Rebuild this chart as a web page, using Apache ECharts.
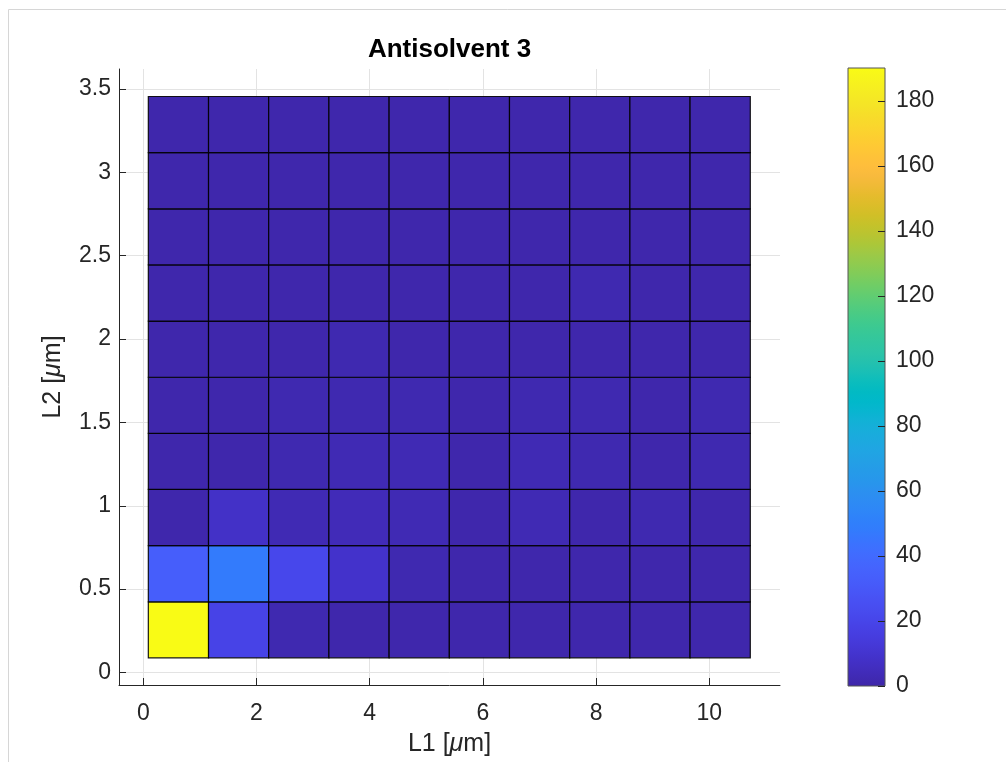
<!DOCTYPE html>
<html>
<head>
<meta charset="utf-8">
<title>Antisolvent 3</title>
<script src="https://cdn.jsdelivr.net/npm/echarts@6/dist/echarts.min.js"></script>
<style>
  html, body { margin: 0; padding: 0; background: #ffffff; }
  #chart { width: 1006px; height: 762px; }
</style>
</head>
<body>
<div id="chart"></div>
<script>
// Bin edges of the 2-D histogram (µm)
const xEdges = [0.088, 1.152, 2.215, 3.279, 4.343, 5.407, 6.470, 7.534, 8.598, 9.661, 10.725];
const yEdges = [0.088, 0.424, 0.761, 1.098, 1.434, 1.771, 2.108, 2.445, 2.781, 3.118, 3.455];

// Counts per bin, one row per L2 bin (bottom row first), columns follow L1 bins
const countsRow0 = [190, 19, 2, 1, 1, 1, 1, 1, 1, 1];
const countsRow1 = [33, 48, 21, 9, 2, 1, 1, 1, 1, 1];
const countsRow2 = [1, 8, 3, 4, 3, 1, 3, 1, 2, 1];
const countsRow3 = [1, 1, 2, 3, 3, 1, 3, 2, 1, 2];
const countsRow4 = [1, 1, 2, 2, 2, 1, 2, 2, 1, 2];
const countsRow5 = [1, 1, 1, 2, 1, 1, 1, 1, 1, 1];
const countsRow6 = [1, 1, 1, 1, 1, 1, 1, 2, 1, 1];
const countsRow7 = [1, 1, 1, 1, 1, 1, 1, 1, 1, 1];
const countsRow8 = [1, 1, 1, 1, 1, 1, 1, 1, 1, 1];
const countsRow9 = [1, 1, 1, 1, 1, 1, 1, 1, 1, 1];
const countRows = [countsRow0, countsRow1, countsRow2, countsRow3, countsRow4,
                   countsRow5, countsRow6, countsRow7, countsRow8, countsRow9];

// Axis tick values
const xTicks = [0, 2, 4, 6, 8, 10];
const yTicks = [0, 0.5, 1, 1.5, 2, 2.5, 3, 3.5];
const cbarTicks = [0, 20, 40, 60, 80, 100, 120, 140, 160, 180];

// parula colormap (64 entries)
const parula = [
  [0.2422,0.1504,0.6603],[0.2504,0.1650,0.7076],[0.2578,0.1818,0.7511],[0.2647,0.1978,0.7952],
  [0.2706,0.2147,0.8364],[0.2751,0.2342,0.8710],[0.2783,0.2559,0.8991],[0.2803,0.2782,0.9221],
  [0.2813,0.3006,0.9414],[0.2810,0.3228,0.9579],[0.2795,0.3447,0.9717],[0.2760,0.3667,0.9829],
  [0.2699,0.3892,0.9906],[0.2602,0.4123,0.9952],[0.2440,0.4358,0.9988],[0.2206,0.4603,0.9973],
  [0.1963,0.4847,0.9892],[0.1834,0.5074,0.9798],[0.1786,0.5289,0.9682],[0.1764,0.5499,0.9520],
  [0.1687,0.5703,0.9359],[0.1540,0.5902,0.9218],[0.1460,0.6091,0.9079],[0.1380,0.6276,0.8973],
  [0.1248,0.6459,0.8883],[0.1113,0.6635,0.8763],[0.0952,0.6798,0.8598],[0.0689,0.6948,0.8394],
  [0.0297,0.7082,0.8163],[0.0036,0.7203,0.7917],[0.0067,0.7312,0.7660],[0.0433,0.7411,0.7394],
  [0.0964,0.7500,0.7120],[0.1408,0.7584,0.6842],[0.1717,0.7670,0.6554],[0.1938,0.7758,0.6251],
  [0.2161,0.7843,0.5923],[0.2470,0.7918,0.5567],[0.2906,0.7973,0.5188],[0.3406,0.8008,0.4789],
  [0.3909,0.8029,0.4354],[0.4456,0.8024,0.3909],[0.5044,0.7993,0.3480],[0.5616,0.7942,0.3090],
  [0.6174,0.7876,0.2736],[0.6720,0.7793,0.2227],[0.7242,0.7698,0.1910],[0.7738,0.7598,0.1646],
  [0.8203,0.7498,0.1535],[0.8634,0.7406,0.1596],[0.9035,0.7330,0.1774],[0.9393,0.7288,0.2100],
  [0.9728,0.7298,0.2394],[0.9956,0.7434,0.2371],[0.9970,0.7659,0.2199],[0.9952,0.7893,0.2028],
  [0.9892,0.8136,0.1885],[0.9786,0.8386,0.1766],[0.9676,0.8639,0.1643],[0.9610,0.8890,0.1537],
  [0.9597,0.9135,0.1423],[0.9628,0.9373,0.1265],[0.9691,0.9606,0.1064],[0.9769,0.9839,0.0805]
];
const toHex = c => '#' + c.map(v => Math.round(v * 255).toString(16).padStart(2, '0')).join('');
const parulaHex = parula.map(toHex);

// Build tile records: [x0, x1, y0, y1, count]
const tiles = [];
countRows.forEach((row, j) => {
  row.forEach((count, i) => {
    tiles.push([xEdges[i], xEdges[i + 1], yEdges[j], yEdges[j + 1], count]);
  });
});
const colorMax = Math.max(...countRows.flat());

const FONT = 'Liberation Sans, Arial, Helvetica, sans-serif';
const INK = '#262626';
const LABEL_SIZE = 23;
const NAME_SIZE = 25;
const TICK_LEN = 7;

const nameRich = {
  a: { fontFamily: FONT, fontSize: NAME_SIZE, color: INK },
  b: { fontFamily: FONT, fontSize: NAME_SIZE, color: INK, fontStyle: 'italic' }
};

const chart = echarts.init(document.getElementById('chart'), null, { renderer: 'canvas' });

chart.setOption({
  backgroundColor: '#ffffff',
  animation: false,
  graphic: [
    {
      type: 'rect',
      shape: { x: 8.5, y: 9.5, width: 1100, height: 900 },
      style: { fill: 'none', stroke: '#d6d6d6', lineWidth: 1 },
      silent: true
    },
    {
      type: 'text',
      x: 449.5,
      y: 50,
      style: {
        text: 'Antisolvent 3',
        font: 'bold 26px ' + FONT,
        fill: '#000000',
        textAlign: 'center',
        textVerticalAlign: 'middle'
      }
    }
  ],
  grid: [
    { left: 119, top: 69, width: 661, height: 616, containLabel: false, outerBoundsMode: 'none' },
    { left: 848, top: 68, width: 37, height: 618, containLabel: false, outerBoundsMode: 'none' }
  ],
  xAxis: [
    {
      gridIndex: 0,
      type: 'value',
      min: -0.43,
      max: 11.25,
      name: '{a|L1 [}{b|μ}{a|m]}',
      nameLocation: 'middle',
      nameGap: 47,
      nameTextStyle: { rich: nameRich },
      axisLine: { show: true, onZero: false, lineStyle: { color: INK, width: 1 } },
      axisTick: { show: true, inside: true, length: TICK_LEN, customValues: xTicks, lineStyle: { color: INK } },
      axisLabel: { customValues: xTicks, margin: 17, fontFamily: FONT, fontSize: LABEL_SIZE, color: INK },
      splitLine: { show: true, lineStyle: { color: '#e3e3e3', width: 1 } }
    },
    {
      gridIndex: 1,
      type: 'value',
      min: 0,
      max: 1,
      show: false
    }
  ],
  yAxis: [
    {
      gridIndex: 0,
      type: 'value',
      min: -0.075,
      max: 3.62,
      name: '{a|L2 [}{b|μ}{a|m]}',
      nameLocation: 'middle',
      nameGap: 53,
      nameRotate: 90,
      nameTextStyle: { rich: nameRich },
      axisLine: { show: true, onZero: false, lineStyle: { color: INK, width: 1 } },
      axisTick: { show: true, inside: true, length: TICK_LEN, customValues: yTicks, lineStyle: { color: INK } },
      axisLabel: { customValues: yTicks, margin: 8, fontFamily: FONT, fontSize: LABEL_SIZE, color: INK },
      splitLine: { show: true, lineStyle: { color: '#e3e3e3', width: 1 } }
    },
    {
      gridIndex: 1,
      type: 'value',
      position: 'right',
      min: 0,
      max: colorMax,
      axisLine: { show: false },
      axisTick: { show: false },
      axisLabel: { customValues: cbarTicks, margin: 11, fontFamily: FONT, fontSize: LABEL_SIZE, color: INK },
      splitLine: { show: false }
    }
  ],
  visualMap: {
    show: false,
    type: 'continuous',
    seriesIndex: 0,
    dimension: 4,
    min: 0,
    max: colorMax,
    inRange: { color: parulaHex }
  },
  series: [
    {
      type: 'custom',
      xAxisIndex: 0,
      yAxisIndex: 0,
      data: tiles,
      encode: { x: [0, 1], y: [2, 3] },
      z: 5,
      renderItem(params, api) {
        const topLeft = api.coord([api.value(0), api.value(3)]);
        const bottomRight = api.coord([api.value(1), api.value(2)]);
        return {
          type: 'rect',
          shape: {
            x: topLeft[0],
            y: topLeft[1],
            width: bottomRight[0] - topLeft[0],
            height: bottomRight[1] - topLeft[1]
          },
          style: {
            fill: api.visual('color'),
            stroke: 'rgba(0,0,0,0.9)',
            lineWidth: 1.2
          }
        };
      }
    },
    {
      // colorbar strip with inward ticks on its right edge
      type: 'custom',
      xAxisIndex: 1,
      yAxisIndex: 1,
      data: [[0, 1, 0, colorMax]],
      encode: { x: [0, 1], y: [2, 3] },
      z: 5,
      renderItem(params, api) {
        const topLeft = api.coord([api.value(0), api.value(3)]);
        const bottomRight = api.coord([api.value(1), api.value(2)]);
        const stops = parulaHex.map((c, i) => ({ offset: i / (parulaHex.length - 1), color: c }));
        const children = [{
          type: 'rect',
          shape: {
            x: topLeft[0],
            y: topLeft[1],
            width: bottomRight[0] - topLeft[0],
            height: bottomRight[1] - topLeft[1]
          },
          style: {
            fill: new echarts.graphic.LinearGradient(0, 1, 0, 0, stops),
            stroke: '#555555',
            lineWidth: 1
          }
        }];
        cbarTicks.forEach(v => {
          const p = api.coord([api.value(1), v]);
          const y = Math.round(p[1]) + 0.5;
          children.push({
            type: 'line',
            shape: { x1: p[0] - TICK_LEN, y1: y, x2: p[0], y2: y },
            style: { stroke: INK, lineWidth: 1 }
          });
        });
        return { type: 'group', children };
      }
    }
  ]
});
</script>
</body>
</html>
